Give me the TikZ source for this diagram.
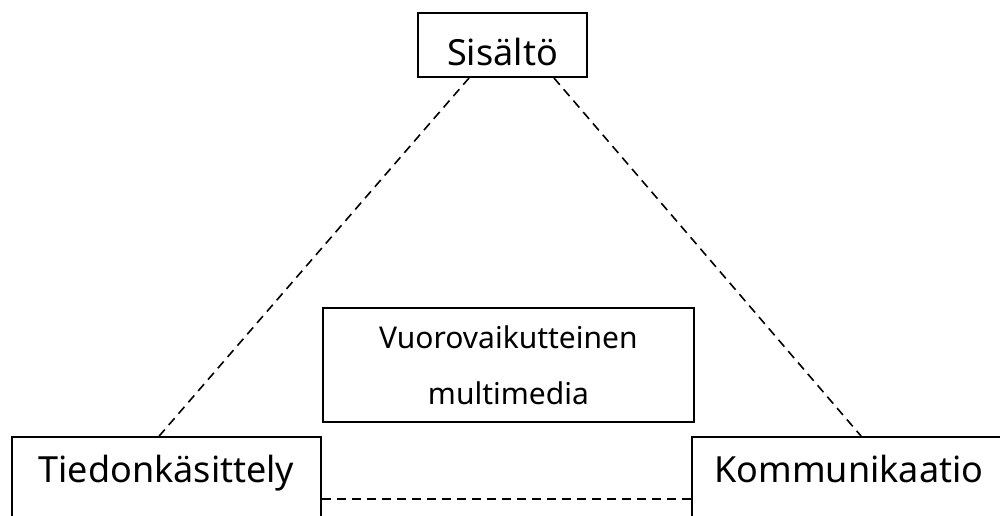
\documentclass[tikz,border=0pt]{standalone}
\usepackage{fontspec}
\setmainfont{Noto Sans}
\begin{document}
\begin{tikzpicture}[x=1pt,y=-1pt,
  box/.style={draw=black, line width=1.8pt, inner sep=0pt, anchor=base},
  big/.style={font=\fontsize{36}{40}\selectfont},
  dashline/.style={draw=black, line width=1.6pt, dash pattern=on 9pt off 6pt}]
\useasboundingbox (0,0) rectangle (1000,515);
\clip (0,0) rectangle (1000,515);
\fill[white] (0,0) rectangle (1000,515);
\node[box, big, minimum width=169pt, text height=52pt, text depth=12pt] (sis) at (502.5,65) {Sisältö};
\node[box, big, minimum width=309pt, text height=45pt, text depth=45pt] (tie) at (166.5,482) {Tiedonkäsittely};
\node[box, big, minimum width=314pt, text height=45pt, text depth=45pt] (kom) at (849,482) {Kommunikaatio};
\node[draw=black, line width=1.8pt, inner sep=0pt, minimum width=371pt, minimum height=114pt, anchor=north west,
  align=center, font=\fontsize{30}{56}\selectfont] (mid) at (322,307) {\raisebox{0pt}{Vuorovaikutteinen}\\multimedia};
\draw[dashline] ([xshift=52]sis.south west) -- ([xshift=148]tie.north west);
\draw[dashline] ([xshift=-34]sis.south east) -- ([xshift=170]kom.north west);
\draw[dashline] ([yshift=-17]tie.east) -- ([yshift=-17]kom.west);
\end{tikzpicture}
\end{document}
